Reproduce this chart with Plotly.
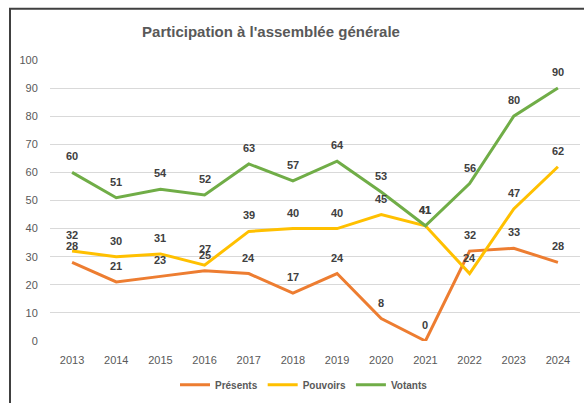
import plotly.graph_objects as go

years = ["2013", "2014", "2015", "2016", "2017", "2018", "2019", "2020", "2021", "2022", "2023", "2024"]
presents = [28, 21, 23, 25, 24, 17, 24, 8, 0, 32, 33, 28]
pouvoirs = [32, 30, 31, 27, 39, 40, 40, 45, 41, 24, 47, 62]
votants = [60, 51, 54, 52, 63, 57, 64, 53, 41, 56, 80, 90]

series = [
    ("Présents", presents, "#ED7D31"),
    ("Pouvoirs", pouvoirs, "#FFC000"),
    ("Votants", votants, "#70AD47"),
]

FONT = "Liberation Sans, Arial, sans-serif"
W, H = 584, 403
ML, MR, MT, MB = 50, 4, 60, 60
pw = W - ML - MR
ph = H - MT - MB

fig = go.Figure()
annotations = []
for name, vals, color in series:
    fig.add_trace(go.Scatter(
        x=years, y=vals, name=name, mode="lines",
        line=dict(color=color, width=3),
    ))
    for i, v in enumerate(vals):
        annotations.append(dict(
            x=i, y=v, xref="x", yref="y", text="<b>%d</b>" % v, showarrow=False,
            yshift=16, font=dict(family=FONT, size=11, color="#404040"),
        ))

def px_x(p):
    return (p - ML) / pw

def px_y(p):
    return (H - MB - p) / ph

fig.update_layout(
    width=W, height=H,
    margin=dict(l=ML, r=MR, t=MT, b=MB),
    paper_bgcolor="white", plot_bgcolor="white",
    title=dict(
        text="<b>Participation à l'assemblée générale</b>",
        x=271 / W, xanchor="center", xref="container",
        y=1 - 32 / H, yanchor="middle", yref="container",
        font=dict(family=FONT, size=15, color="#595959"),
    ),
    xaxis=dict(
        type="category", range=[-0.5, 11.5], showgrid=False, zeroline=False,
        showline=False, ticks="outside", ticklen=9, tickcolor="rgba(0,0,0,0)",
        tickfont=dict(family=FONT, size=11, color="#595959"),
    ),
    yaxis=dict(
        range=[0, 100], dtick=10, showgrid=True, gridcolor="#D9D9D9", gridwidth=1,
        zeroline=False, showline=False, ticks="outside", ticklen=9,
        tickcolor="rgba(0,0,0,0)",
        tickfont=dict(family=FONT, size=11, color="#595959"),
    ),
    legend=dict(
        orientation="h", x=px_x(304), xanchor="center", y=px_y(387), yanchor="middle",
        font=dict(family=FONT, size=10, color="#595959", weight="bold"),
        itemwidth=30,
    ),
    hovermode=False,
    annotations=annotations,
    shapes=[dict(
        type="rect", xref="paper", yref="paper",
        x0=px_x(10), x1=px_x(600), y0=px_y(420), y1=px_y(8.5),
        line=dict(color="#404040", width=2), fillcolor="rgba(0,0,0,0)",
    )],
)

fig.write_html(
    "out.html",
    config={"displayModeBar": False, "staticPlot": True},
    post_script="document.body.style.margin='0';",
)
